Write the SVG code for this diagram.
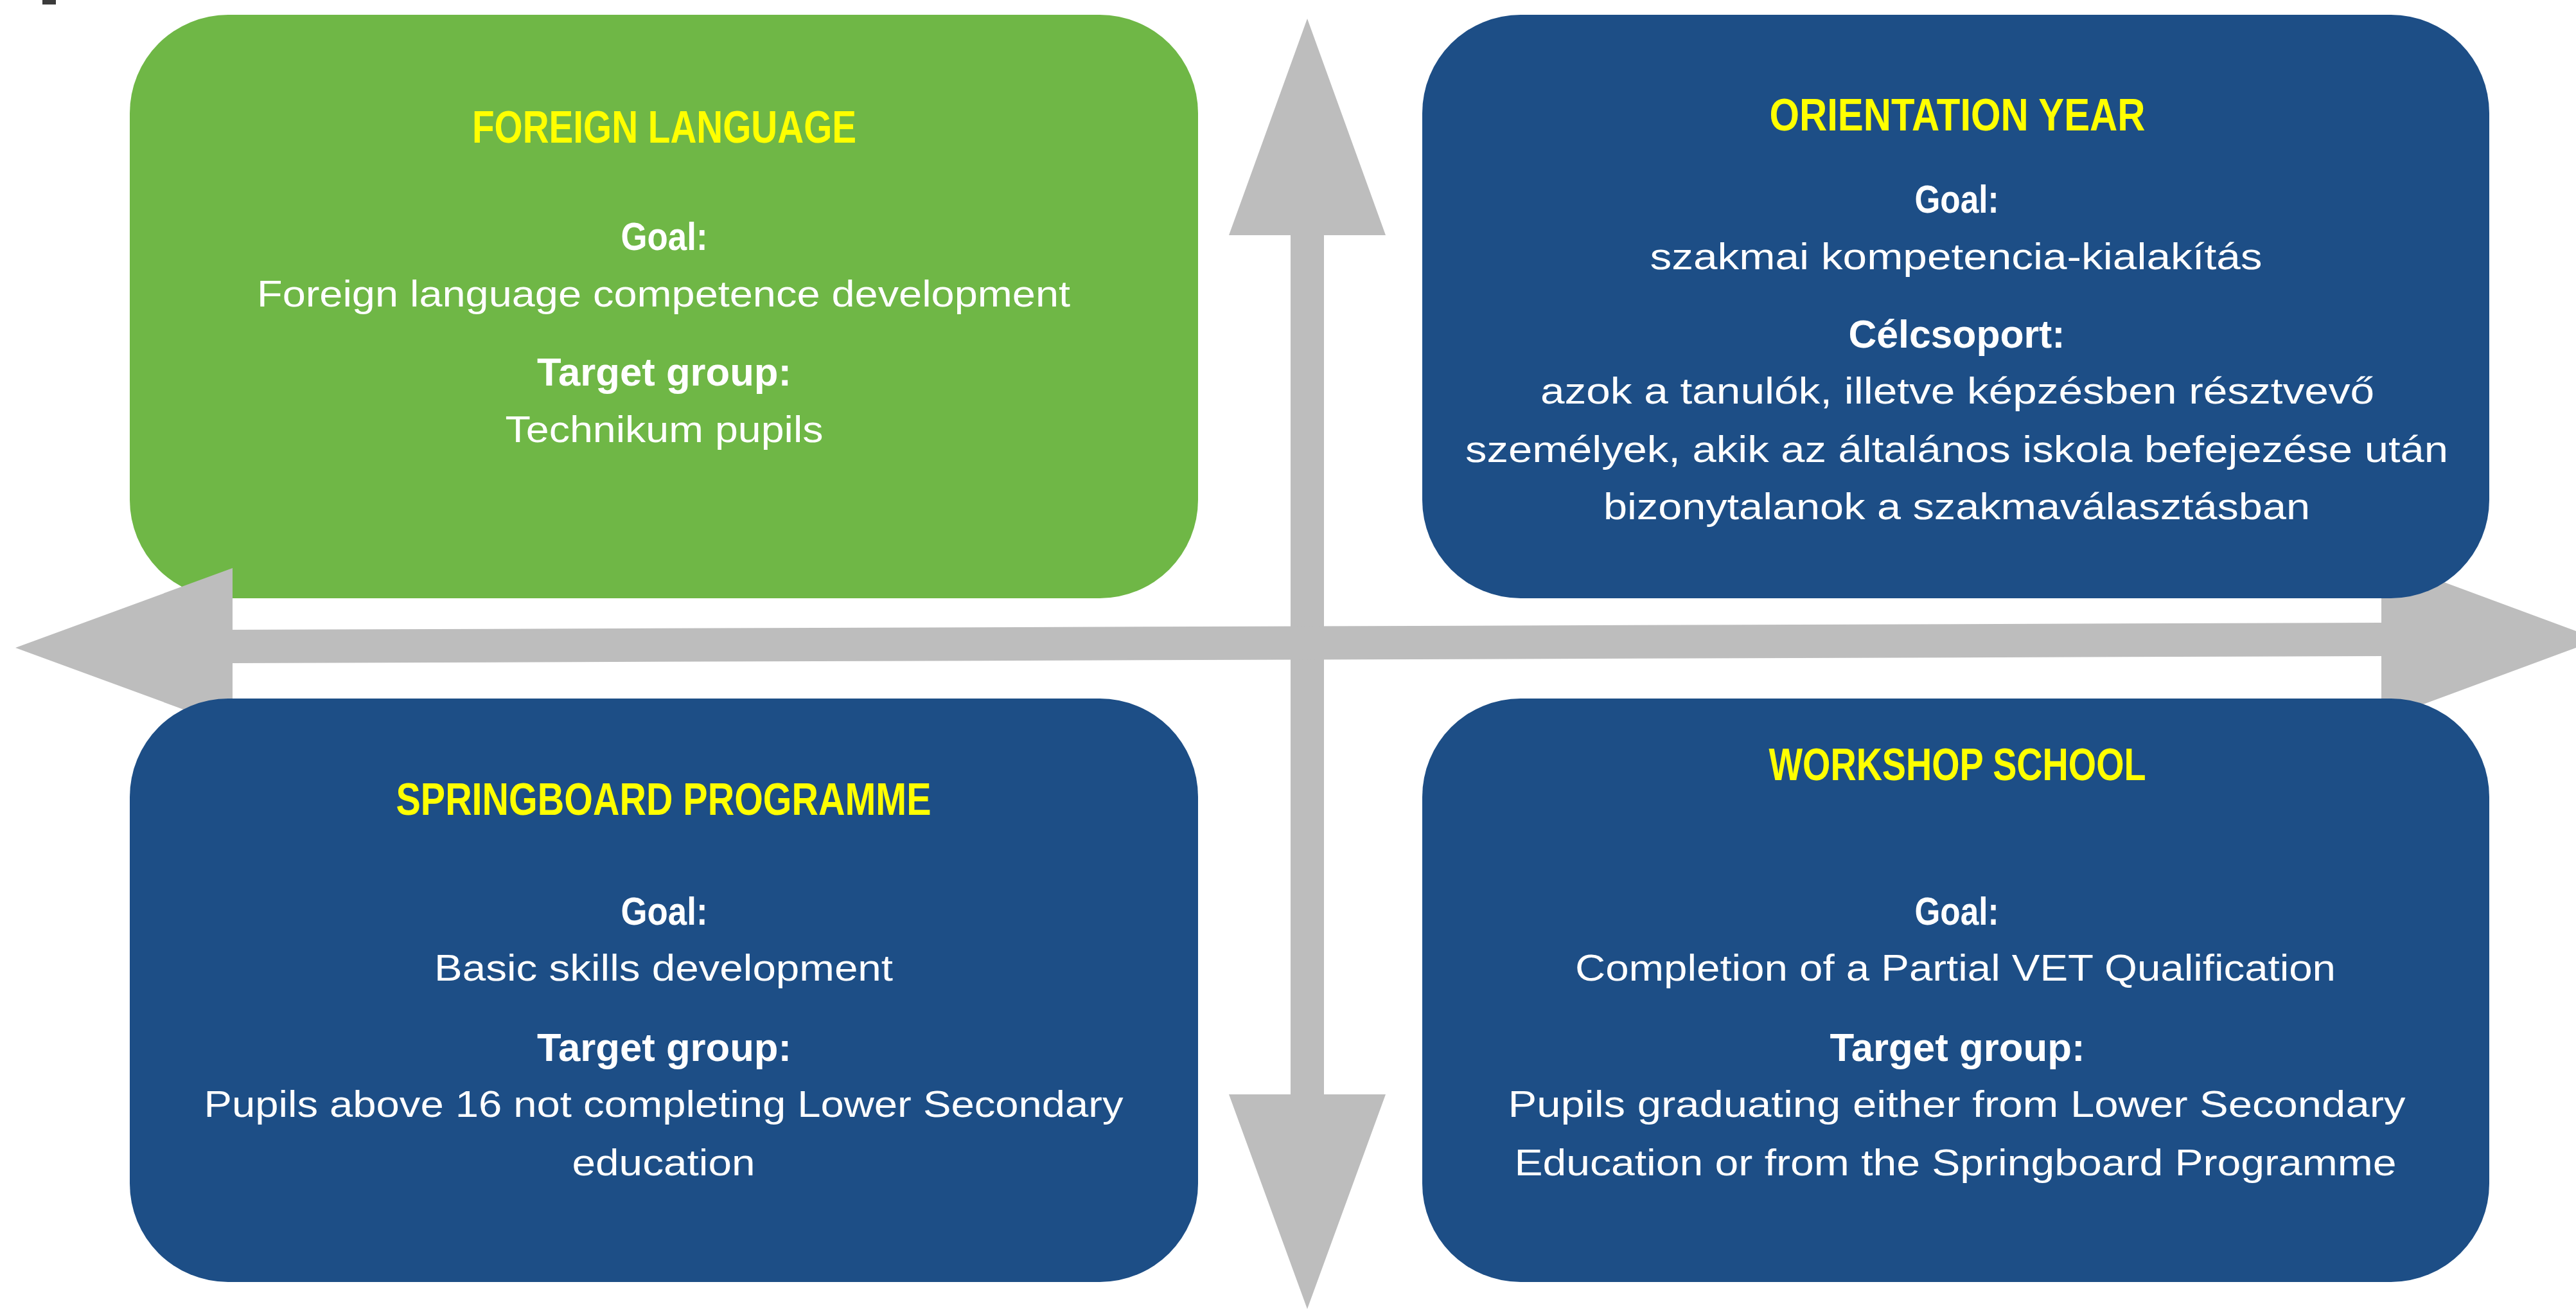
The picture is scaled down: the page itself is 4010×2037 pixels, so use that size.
<svg xmlns="http://www.w3.org/2000/svg" width="4010" height="2037" viewBox="0 0 4010 2037">
<style>
.box-green{fill:#6FB746}
.box-blue{fill:#1D4E86}
.arrow{fill:#BDBDBD}
text{font-family:"Liberation Sans","DejaVu Sans",sans-serif;text-anchor:middle}
.title{fill:#FFFF00;font-weight:bold;font-size:70px}
.label{fill:#FFFFFF;font-weight:bold;font-size:62px}
.body{fill:#FFFFFF;font-size:58px}
</style>
<rect width="4010" height="2037" fill="#FFFFFF"/>
<rect x="66" y="0" width="21" height="7" fill="#3B3B3B"/>

<g id="node-foreign-language">
<rect class="box-green" x="202" y="23" width="1663" height="908" rx="153" ry="153"/>
<text class="title" x="1034" y="222" textLength="598" lengthAdjust="spacingAndGlyphs">FOREIGN LANGUAGE</text>
<text class="label" x="1034" y="389" textLength="135" lengthAdjust="spacingAndGlyphs">Goal:</text>
<text class="body" x="1033" y="477" textLength="1266" lengthAdjust="spacingAndGlyphs">Foreign language competence development</text>
<text class="label" x="1034" y="600" textLength="396" lengthAdjust="spacingAndGlyphs">Target group:</text>
<text class="body" x="1034" y="688" textLength="495" lengthAdjust="spacingAndGlyphs">Technikum pupils</text>
</g>

<g id="connectors">
<polygon class="arrow" points="2035,29 2157,366 2061,366 2061,1703 2157,1703 2035,2037 1913,1703 2009,1703 2009,366 1913,366"/>
<polygon class="arrow" points="24,1008 362,884 362,980 3707,969 3707,870 4045,995 3707,1120 3707,1021 362,1032 362,1132"/>
</g>

<g id="node-orientation-year">
<rect class="box-blue" x="2214" y="23" width="1661" height="908" rx="153" ry="153"/>
<text class="title" x="3047" y="203" textLength="585" lengthAdjust="spacingAndGlyphs">ORIENTATION YEAR</text>
<text class="label" x="3046" y="331" textLength="131" lengthAdjust="spacingAndGlyphs">Goal:</text>
<text class="body" x="3045" y="419" textLength="953" lengthAdjust="spacingAndGlyphs">szakmai kompetencia-kialakítás</text>
<text class="label" x="3046" y="541" textLength="337" lengthAdjust="spacingAndGlyphs">Célcsoport:</text>
<text class="body" x="3047" y="628" textLength="1298" lengthAdjust="spacingAndGlyphs">azok a tanulók, illetve képzésben résztvevő</text>
<text class="body" x="3046" y="719" textLength="1530" lengthAdjust="spacingAndGlyphs">személyek, akik az általános iskola befejezése után</text>
<text class="body" x="3046" y="808" textLength="1100" lengthAdjust="spacingAndGlyphs">bizonytalanok a szakmaválasztásban</text>
</g>

<g id="node-springboard-programme">
<rect class="box-blue" x="202" y="1087" width="1663" height="908" rx="153" ry="153"/>
<text class="title" x="1033" y="1268" textLength="833" lengthAdjust="spacingAndGlyphs">SPRINGBOARD PROGRAMME</text>
<text class="label" x="1034" y="1439" textLength="135" lengthAdjust="spacingAndGlyphs">Goal:</text>
<text class="body" x="1033" y="1526" textLength="714" lengthAdjust="spacingAndGlyphs">Basic skills development</text>
<text class="label" x="1034" y="1651" textLength="396" lengthAdjust="spacingAndGlyphs">Target group:</text>
<text class="body" x="1033" y="1738" textLength="1431" lengthAdjust="spacingAndGlyphs">Pupils above 16 not completing Lower Secondary</text>
<text class="body" x="1033" y="1829" textLength="285" lengthAdjust="spacingAndGlyphs">education</text>
</g>

<g id="node-workshop-school">
<rect class="box-blue" x="2214" y="1087" width="1661" height="908" rx="153" ry="153"/>
<text class="title" x="3047" y="1214" textLength="587" lengthAdjust="spacingAndGlyphs">WORKSHOP SCHOOL</text>
<text class="label" x="3046" y="1439" textLength="131" lengthAdjust="spacingAndGlyphs">Goal:</text>
<text class="body" x="3044" y="1526" textLength="1184" lengthAdjust="spacingAndGlyphs">Completion of a Partial VET Qualification</text>
<text class="label" x="3047" y="1651" textLength="397" lengthAdjust="spacingAndGlyphs">Target group:</text>
<text class="body" x="3046" y="1738" textLength="1397" lengthAdjust="spacingAndGlyphs">Pupils graduating either from Lower Secondary</text>
<text class="body" x="3044" y="1829" textLength="1373" lengthAdjust="spacingAndGlyphs">Education or from the Springboard Programme</text>
</g>
</svg>
